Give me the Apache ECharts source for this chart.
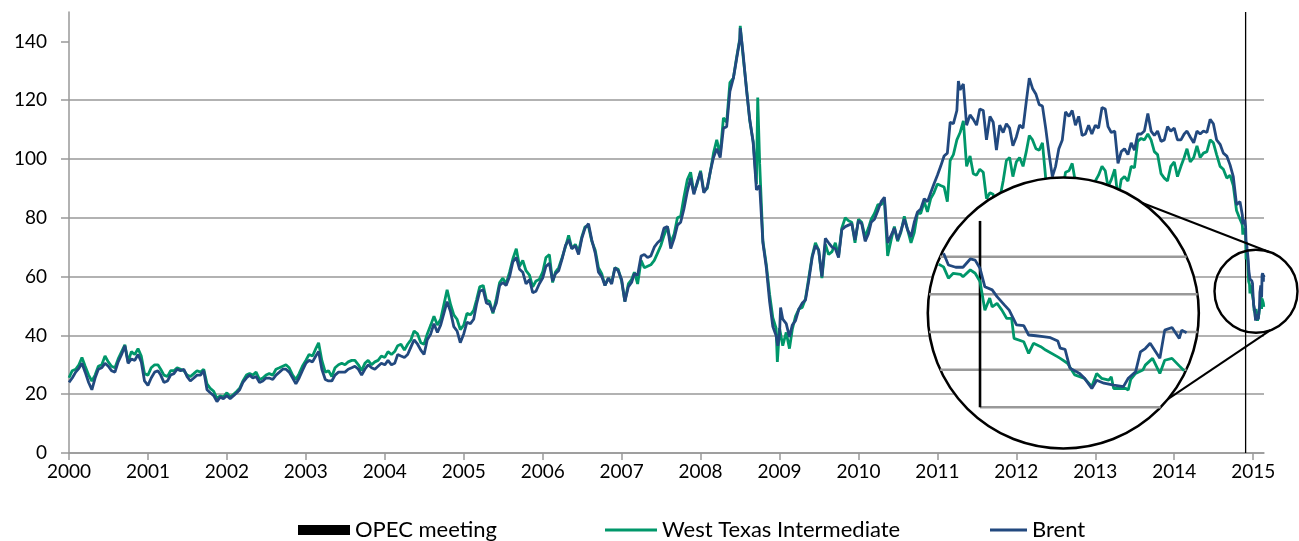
<!DOCTYPE html>
<html>
<head>
<meta charset="utf-8">
<title>Brent and WTI crude oil prices</title>
<script src="https://cdn.jsdelivr.net/npm/echarts@6/dist/echarts.min.js"></script>
<style>
    html, body { margin: 0; padding: 0; background: #fff; }
    #chartLine { width: 1299px; height: 541px; }
</style>
</head>
<body>
<div id="chartLine"></div>
<script>
// half-month readings (1st and 16th of every month), Jan 2000 .. 1 Nov 2014, one line per year
var brent = [
    24.0, 25.5, 27.5, 28.8, 30.5, 27.5, 24.0, 21.5, 25.5, 28.5, 29.0, 30.5, 29.5, 28.0, 27.5, 31.0, 33.5, 36.5, 30.5, 32.0, 31.5, 33.5, 31.0, 24.5,
    23.0, 25.5, 27.5, 28.0, 26.5, 24.0, 24.5, 26.5, 27.0, 28.5, 28.0, 28.5, 26.0, 24.5, 25.5, 26.5, 26.5, 28.0, 21.5, 20.5, 19.5, 17.5, 19.0, 18.5,
    19.5, 18.5, 19.5, 20.5, 21.5, 24.0, 25.5, 26.5, 25.5, 26.0, 24.0, 24.5, 25.5, 25.5, 25.0, 26.5, 27.5, 28.5, 28.5, 27.5, 25.5, 23.5, 25.5, 28.0,
    30.5, 31.5, 31.0, 33.0, 34.5, 28.5, 25.0, 24.5, 24.5, 26.5, 27.5, 27.5, 27.5, 28.5, 29.0, 29.5, 28.5, 26.5, 28.5, 30.0, 29.0, 28.5, 29.5, 30.5,
    30.0, 31.5, 30.0, 30.5, 33.5, 33.0, 32.5, 33.5, 36.0, 38.5, 37.0, 35.0, 33.5, 38.5, 40.5, 44.0, 41.0, 43.5, 47.5, 51.5, 48.0, 43.0, 41.5, 37.5,
    40.5, 44.5, 44.0, 45.5, 50.5, 55.0, 55.5, 51.0, 50.5, 48.0, 51.0, 57.0, 58.0, 57.0, 60.0, 65.0, 66.5, 62.5, 61.5, 57.5, 59.0, 54.5, 55.0, 57.5,
    59.5, 63.5, 64.5, 58.5, 61.0, 62.0, 66.0, 70.5, 72.5, 69.5, 70.5, 67.5, 73.0, 76.5, 78.0, 72.5, 68.0, 61.5, 60.0, 57.0, 59.5, 57.5, 63.0, 62.0,
    59.0, 51.5, 56.5, 58.0, 61.0, 60.5, 67.0, 67.5, 66.5, 67.0, 70.0, 71.5, 72.5, 76.5, 77.0, 69.5, 73.0, 77.5, 78.5, 83.0, 89.0, 93.5, 88.0, 92.0,
    95.5, 88.5, 90.5, 96.0, 100.5, 103.5, 100.5, 110.5, 111.0, 123.0, 127.5, 134.0, 140.5, 136.0, 123.5, 113.5, 105.5, 89.5, 91.0, 71.5, 63.0, 51.5, 43.0, 40.0,
    40.5, 45.5, 44.0, 39.5, 43.5, 45.0, 49.0, 51.0, 52.0, 58.5, 66.5, 70.5, 69.0, 60.0, 73.0, 71.5, 70.0, 69.5, 66.5, 76.0, 77.0, 77.5, 78.0, 72.5,
    79.0, 78.0, 72.0, 74.5, 78.5, 79.5, 82.5, 85.5, 87.0, 71.5, 74.0, 76.5, 72.5, 75.5, 79.5, 76.0, 73.5, 78.5, 82.0, 83.0, 86.5, 85.5, 88.5, 91.5,
    94.5, 97.5, 101.0, 102.0, 112.5, 112.0, 116.5, 123.5, 125.5, 111.5, 115.0, 113.5, 111.5, 117.0, 116.5, 106.5, 114.5, 112.5, 103.0, 111.5, 109.0, 112.0, 110.5, 104.5,
    107.5, 111.5, 110.5, 119.5, 127.5, 124.0, 122.0, 118.5, 118.0, 110.5, 101.5, 94.0, 97.5, 103.5, 106.5, 116.0, 114.5, 116.5, 111.5, 114.5, 108.0, 108.5, 111.5, 108.5,
    111.5, 110.5, 117.5, 117.0, 111.0, 109.0, 109.5, 98.5, 102.5, 103.5, 101.5, 105.5, 103.0, 108.5, 108.5, 109.5, 115.5, 109.5, 108.0, 109.5, 106.0, 106.5, 111.0, 109.5,
    110.5, 106.5, 106.5, 108.5, 109.5, 107.5, 105.5, 109.5, 108.5, 109.5, 109.0, 113.5, 112.0, 106.5, 105.0, 102.0, 101.0, 98.0, 94.0, 84.5, 85.5
];
var wti = [
    25.6, 28.0, 28.5, 30.0, 32.5, 29.5, 26.5, 24.5, 26.5, 29.5, 30.0, 33.0, 31.0, 29.5, 29.0, 32.0, 34.5, 36.8, 31.0, 34.5, 33.5, 35.5, 33.0, 27.0,
    26.5, 29.0, 30.0, 30.0, 28.5, 26.5, 26.0, 28.0, 28.0, 29.0, 28.5, 28.0, 26.5, 26.0, 27.0, 28.0, 27.5, 28.5, 23.5, 22.0, 21.0, 18.5, 19.5, 19.0,
    20.5, 19.0, 20.0, 21.0, 22.0, 24.5, 26.5, 27.0, 26.5, 27.5, 25.0, 25.5, 26.5, 27.0, 26.5, 28.5, 29.0, 29.5, 30.0, 29.0, 26.5, 25.0, 27.0, 29.5,
    31.5, 33.5, 33.0, 35.5, 37.5, 31.5, 27.5, 28.0, 26.0, 29.0, 30.0, 30.5, 30.0, 31.0, 31.5, 31.5, 30.0, 28.0, 30.5, 31.5, 30.0, 31.0, 31.5, 33.0,
    32.5, 34.5, 33.5, 34.5, 36.5, 37.0, 35.0, 37.0, 38.5, 41.5, 40.5, 37.5, 37.0, 40.5, 43.5, 46.5, 43.5, 45.5, 50.5, 55.5, 50.5, 47.0, 45.5, 42.0,
    43.5, 47.5, 47.0, 48.5, 52.0, 56.5, 57.0, 52.0, 51.5, 47.5, 52.5, 58.0, 59.5, 57.5, 61.5, 66.0, 69.5, 63.5, 65.5, 62.0, 60.5, 56.5, 58.5, 59.0,
    61.5, 66.5, 67.5, 58.0, 61.5, 63.0, 66.5, 70.0, 74.0, 69.5, 71.0, 68.5, 73.5, 77.0, 77.0, 72.0, 69.0, 63.0, 61.0, 57.0, 59.5, 58.0, 63.0, 62.5,
    58.5, 51.5, 57.5, 59.0, 61.5, 57.5, 65.5, 63.0, 63.5, 64.0, 65.5, 68.0, 70.5, 74.0, 77.0, 71.5, 74.5, 80.0, 80.5, 87.0, 93.0, 95.5, 88.5, 91.5,
    96.0, 89.0, 90.0, 96.0, 102.0, 106.5, 101.5, 114.0, 112.5, 126.0, 127.5, 134.5, 141.0, 135.0, 124.0, 113.0, 106.0, 91.5, 98.5, 72.0, 64.0, 54.0, 46.0, 42.5,
    42.5, 36.5, 41.0, 35.5, 42.0, 46.5, 49.0, 49.5, 52.5, 59.5, 67.0, 71.5, 69.0, 59.5, 71.0, 67.5, 68.5, 71.5, 67.0, 76.5, 80.0, 79.0, 78.5, 71.5,
    79.5, 78.5, 73.5, 76.5, 79.5, 81.5, 84.5, 84.5, 86.0, 67.0, 72.5, 77.0, 72.0, 75.0, 80.5, 76.0, 71.5, 75.0, 81.5, 81.5, 85.5, 82.0, 86.5, 88.5,
    91.5, 91.0, 90.5, 85.5, 99.5, 101.5, 106.5, 109.0, 113.0, 97.5, 101.0, 95.0, 94.5, 96.5, 95.5, 86.5, 88.5, 88.0, 79.5, 86.5, 92.5, 99.5, 100.5, 94.0,
    99.0, 100.5, 97.5, 102.5, 108.0, 106.5, 103.5, 103.0, 105.5, 93.5, 85.0, 83.5, 84.5, 87.5, 88.5, 95.5, 96.0, 98.5, 92.0, 92.0, 86.5, 86.5, 88.5, 86.0,
    92.5, 94.5, 97.5, 96.0, 90.5, 93.0, 96.5, 86.5, 93.0, 94.0, 92.5, 97.5, 97.0, 106.0, 107.0, 106.5, 108.5, 106.5, 102.5, 101.5, 95.0, 93.5, 92.5, 97.5,
    99.0, 94.0, 97.5, 100.5, 103.5, 99.0, 100.5, 104.5, 100.5, 102.0, 102.5, 106.5, 105.5, 101.5, 97.5, 96.5, 93.5, 94.5, 91.0, 82.5, 79.5
];
// single days the half-month grid misses
var brentExtra = [['2008-07-03', 144.5], ['2008-12-24', 36.5], ['2009-01-06', 49.5], ['2011-04-08', 126.5]];
var wtiExtra = [['2008-07-03', 145.3], ['2008-09-22', 120.9], ['2008-12-22', 31.0]];

// daily-ish readings around the meeting (also shown magnified in the circle)
var brentTailDates = ['2014-11-12', '2014-11-14', '2014-11-17', '2014-11-20', '2014-11-23', '2014-11-25', '2014-11-27', '2014-11-29',
    '2014-12-02', '2014-12-04', '2014-12-07', '2014-12-09', '2014-12-12', '2014-12-15', '2014-12-17', '2014-12-20', '2014-12-23',
    '2014-12-26', '2014-12-29', '2014-12-30', '2015-01-01', '2015-01-03', '2015-01-07', '2015-01-09', '2015-01-12', '2015-01-14',
    '2015-01-17', '2015-01-21', '2015-01-25', '2015-01-27', '2015-01-30', '2015-02-01', '2015-02-03', '2015-02-05', '2015-02-09',
    '2015-02-11', '2015-02-14', '2015-02-17', '2015-02-18', '2015-02-20'];
var brentTail = [80.9, 77.8, 77.2, 77.2, 79.4, 79.1, 76.9, 72.0, 71.2, 69.4, 67.2, 65.8, 61.9, 61.7, 59.2, 59.0, 58.8, 58.5, 57.6, 55.7,
    55.4, 50.4, 49.0, 47.7, 45.0, 47.2, 46.4, 45.9, 45.5, 47.7, 49.4, 54.7, 55.6, 57.0, 53.0, 60.5, 61.2, 58.3, 60.5, 59.8];
var wtiTailDates = ['2014-11-10', '2014-11-12', '2014-11-14', '2014-11-16', '2014-11-19', '2014-11-20', '2014-11-23', '2014-11-25',
    '2014-11-27', '2014-11-29', '2014-12-01', '2014-12-02', '2014-12-04', '2014-12-06', '2014-12-08', '2014-12-10', '2014-12-11',
    '2014-12-15', '2014-12-17', '2014-12-19', '2014-12-22', '2014-12-24', '2014-12-29', '2014-12-30', '2015-01-02', '2015-01-05',
    '2015-01-09', '2015-01-12', '2015-01-14', '2015-01-16', '2015-01-19', '2015-01-20', '2015-01-21', '2015-01-26', '2015-01-27',
    '2015-01-28', '2015-01-30', '2015-02-02', '2015-02-03', '2015-02-06', '2015-02-09', '2015-02-11', '2015-02-14', '2015-02-17', '2015-02-19'];
var wtiTail = [78.0, 77.3, 74.3, 75.6, 75.3, 74.7, 76.5, 75.6, 73.4, 65.8, 69.0, 66.7, 67.6, 65.8, 63.6, 63.6, 58.3, 57.4, 54.3, 57.0,
    56.1, 55.2, 53.4, 53.0, 51.7, 48.6, 47.7, 45.5, 49.0, 47.7, 47.2, 48.1, 45.0, 45.0, 44.6, 47.4, 49.0, 49.9, 51.2, 53.0, 49.0, 52.5,
    53.0, 51.0, 49.7];

var opecDate = '2014-11-27';
var yearTicks = [2000, 2001, 2002, 2003, 2004, 2005, 2006, 2007, 2008, 2009, 2010, 2011, 2012, 2013, 2014, 2015];
var yTicks = [0, 20, 40, 60, 80, 100, 120, 140];
var insetTicks = [40, 50, 60, 70, 80];

function toYear(s) {
    var d = new Date(s + 'T00:00:00Z');
    var y = d.getUTCFullYear();
    var a = Date.UTC(y, 0, 1), b = Date.UTC(y + 1, 0, 1);
    return y + (d.getTime() - a) / (b - a);
}
function halfMonth(i) {
    var y = 2000 + Math.floor(i / 24);
    var m = Math.floor((i % 24) / 2) + 1;
    return y + '-' + (m < 10 ? '0' : '') + m + '-' + (i % 2 ? '16' : '01');
}
function pairs(dates, vals) {
    return dates.map(function (s, i) { return [toYear(s), vals[i]]; });
}
function buildSeries(vals, extra, tailDates, tailVals) {
    var pts = vals.map(function (v, i) { return [toYear(halfMonth(i)), v]; });
    extra.forEach(function (e) { pts.push([toYear(e[0]), e[1]]); });
    pts = pts.concat(pairs(tailDates, tailVals));
    pts.sort(function (a, b) { return a[0] - b[0]; });
    return pts;
}

var green = '#00976A';
var blue = '#22497F';
var gray = '#999999';
var font = 'Lato, "Open Sans", sans-serif';
var opecX = toYear(opecDate);
var legendText = { fontSize: 22, color: '#000', fontFamily: font };

var chart = echarts.init(document.getElementById('chartLine'));
chart.setOption({
    animation: false,
    textStyle: { fontFamily: font },
    grid: [
        { left: 69, top: 12, width: 1195, height: 441 },
        { left: 938.7, top: 256.7, width: 247.9, height: 150.6 }
    ],
    legend: [
        { left: 293, top: 514, selectedMode: false, itemWidth: 52, itemHeight: 10, textStyle: legendText,
          data: [{ name: 'OPEC meeting', icon: 'rect' }] },
        { left: 600, top: 514, selectedMode: false, itemWidth: 52, itemHeight: 3, textStyle: legendText,
          data: [{ name: 'West Texas Intermediate', icon: 'rect' }] },
        { left: 985, top: 514, selectedMode: false, itemWidth: 37, itemHeight: 3, textStyle: legendText,
          data: [{ name: 'Brent', icon: 'rect' }] }
    ],
    xAxis: [{
        type: 'value', gridIndex: 0, min: 2000, max: toYear('2015-02-20'),
        axisLine: { lineStyle: { color: gray, width: 1.5 } },
        axisTick: { customValues: yearTicks, length: 7, lineStyle: { color: gray, width: 1.5 } },
        axisLabel: { customValues: yearTicks, fontSize: 19, color: '#000', margin: 9,
            formatter: function (v) { return String(Math.round(v)); } },
        splitLine: { show: false }
    }, {
        type: 'value', gridIndex: 1, min: toYear('2014-11-10'), max: toYear('2015-02-20'), show: false
    }],
    yAxis: [{
        type: 'value', gridIndex: 0, min: 0, max: 150, interval: 20,
        axisLine: { show: true, lineStyle: { color: gray, width: 1.5 } },
        axisTick: { show: true, customValues: yTicks, length: 8, lineStyle: { color: gray, width: 1.5 } },
        axisLabel: { customValues: yTicks, fontSize: 19, color: '#000', margin: 22 },
        splitLine: { show: true, showMaxLine: false, lineStyle: { color: gray, width: 1.5 } }
    }, {
        type: 'value', gridIndex: 1, min: 40, max: 80, show: false
    }],
    series: [
        { name: 'OPEC meeting', type: 'line', data: [[opecX, 0], [opecX, 150]], symbol: 'none', silent: true,
          lineStyle: { color: '#000', width: 1.3 }, itemStyle: { color: '#000' }, z: 3 },
        { name: 'West Texas Intermediate', type: 'line', data: buildSeries(wti, wtiExtra, wtiTailDates, wtiTail),
          symbol: 'none', lineStyle: { color: green, width: 2.8 }, itemStyle: { color: green } },
        { name: 'Brent', type: 'line', data: buildSeries(brent, brentExtra, brentTailDates, brentTail),
          symbol: 'none', lineStyle: { color: blue, width: 2.8 }, itemStyle: { color: blue } },
        { name: 'West Texas Intermediate', type: 'line', xAxisIndex: 1, yAxisIndex: 1, data: pairs(wtiTailDates, wtiTail),
          symbol: 'none', clip: false, lineStyle: { color: green, width: 2.8 }, itemStyle: { color: green }, z: 20 },
        { name: 'Brent', type: 'line', xAxisIndex: 1, yAxisIndex: 1, data: pairs(brentTailDates, brentTail),
          symbol: 'none', clip: false, lineStyle: { color: blue, width: 2.8 }, itemStyle: { color: blue }, z: 20 }
    ]
});

// magnifier: big white circle with its own gridlines, small circle on the main plot, two connectors
var CX = 1063.3, CY = 313, R = 135.5, r = 41.5;
var small = chart.convertToPixel({ gridIndex: 0 }, [toYear('2015-01-14'), 55]);
function onCircle(cx, cy, rad, deg) {
    var a = deg * Math.PI / 180;
    return [cx + rad * Math.cos(a), cy + rad * Math.sin(a)];
}
var graphics = [
    { type: 'circle', shape: { cx: CX, cy: CY, r: R }, style: { fill: '#fff', stroke: '#000', lineWidth: 2.6 }, z: 10 },
    { type: 'circle', shape: { cx: small[0], cy: small[1], r: r }, style: { fill: 'none', stroke: '#000', lineWidth: 2.4 }, z: 10 }
];
[[-54.3, -71.4], [39.5, 69.6]].forEach(function (a) {
    var p1 = onCircle(CX, CY, R, a[0]), p2 = onCircle(small[0], small[1], r, a[1]);
    graphics.push({ type: 'line', shape: { x1: p1[0], y1: p1[1], x2: p2[0], y2: p2[1] },
        style: { stroke: '#000', lineWidth: 2 }, z: 10 });
});
var insetOpec = chart.convertToPixel({ gridIndex: 1 }, [opecX, 40]);
var insetOpecTop = chart.convertToPixel({ gridIndex: 1 }, [opecX, 89.5]);
insetTicks.forEach(function (v, i) {
    var yy = chart.convertToPixel({ gridIndex: 1 }, [opecX, v])[1];
    var half = Math.sqrt(R * R - (yy - CY) * (yy - CY));
    var x1 = i === 0 ? insetOpec[0] : CX - half;
    graphics.push({ type: 'line', shape: { x1: x1, y1: yy, x2: CX + half, y2: yy },
        style: { stroke: gray, lineWidth: 2.5 }, z: 11 });
});
graphics.push({ type: 'line', shape: { x1: insetOpec[0], y1: insetOpecTop[1], x2: insetOpec[0], y2: insetOpec[1] },
    style: { stroke: '#000', lineWidth: 2.6 }, z: 12 });
chart.setOption({ graphic: graphics });
</script>
</body>
</html>
